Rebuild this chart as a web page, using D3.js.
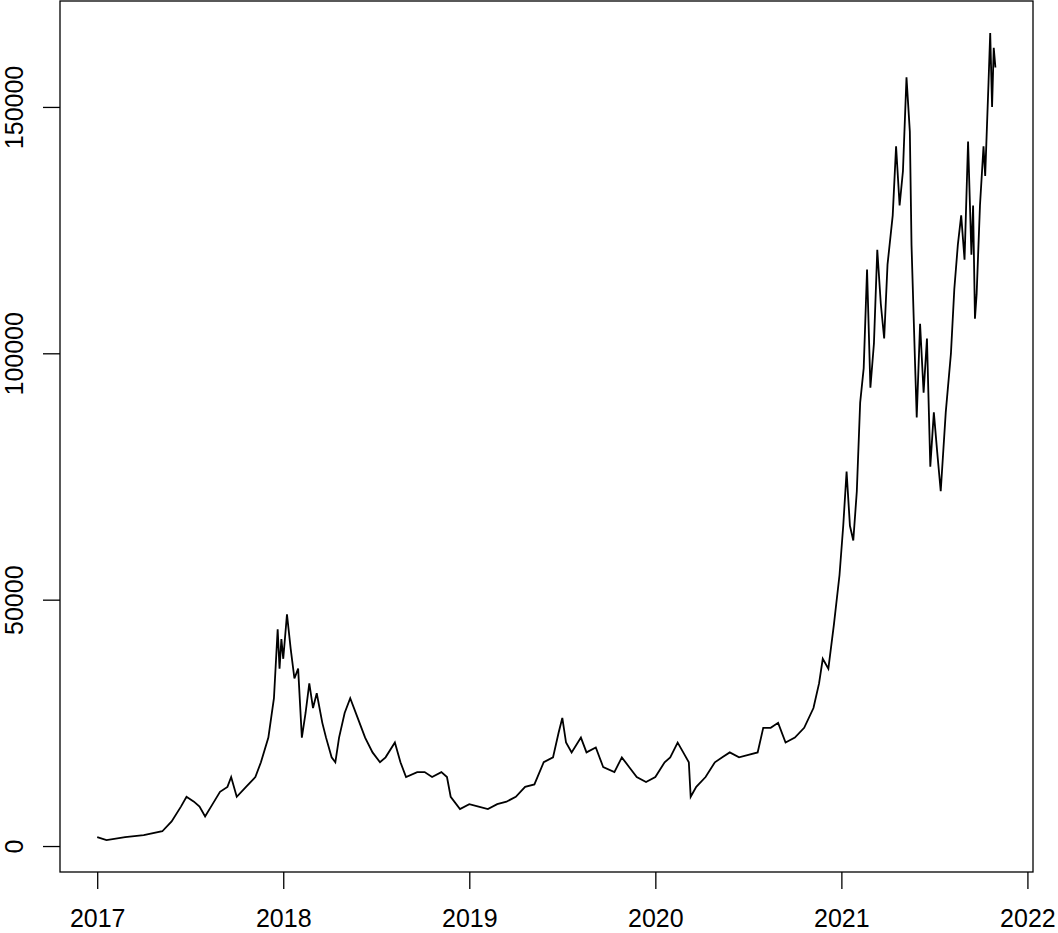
<!DOCTYPE html><html><head><script src="https://d3js.org/d3.v7.min.js"></script>
<style>body{margin:0;background:#fff}</style></head><body><svg id="c" width="1058" height="933"></svg>
<script>
const years=[2017.0,2017.05,2017.15,2017.25,2017.35,2017.40,2017.45,2017.48,2017.52,2017.55,2017.58,2017.62,2017.66,2017.70,2017.72,2017.75,2017.8,2017.85,2017.88,2017.92,2017.95,2017.97,2017.98,2017.99,2018.0,2018.02,2018.04,2018.06,2018.08,2018.10,2018.12,2018.14,2018.16,2018.18,2018.21,2018.23,2018.26,2018.28,2018.30,2018.33,2018.36,2018.40,2018.44,2018.48,2018.52,2018.55,2018.60,2018.63,2018.66,2018.72,2018.76,2018.80,2018.85,2018.88,2018.90,2018.95,2019.0,2019.05,2019.10,2019.15,2019.20,2019.25,2019.30,2019.35,2019.40,2019.45,2019.48,2019.50,2019.52,2019.55,2019.60,2019.63,2019.68,2019.72,2019.78,2019.82,2019.86,2019.9,2019.95,2020.0,2020.05,2020.08,2020.12,2020.15,2020.18,2020.19,2020.22,2020.27,2020.32,2020.36,2020.40,2020.45,2020.5,2020.55,2020.58,2020.62,2020.66,2020.70,2020.75,2020.80,2020.85,2020.88,2020.90,2020.93,2020.96,2020.99,2021.01,2021.028,2021.046,2021.064,2021.083,2021.101,2021.12,2021.138,2021.156,2021.175,2021.193,2021.212,2021.23,2021.248,2021.276,2021.294,2021.313,2021.331,2021.35,2021.368,2021.377,2021.396,2021.405,2021.423,2021.442,2021.46,2021.478,2021.497,2021.515,2021.534,2021.561,2021.589,2021.607,2021.626,2021.644,2021.662,2021.681,2021.699,2021.708,2021.718,2021.727,2021.745,2021.764,2021.773,2021.791,2021.80,2021.81,2021.819,2021.828];
const values=[1.8,1.2,1.8,2.2,3,5,8,10,9,8,6,8.5,11,12,14,10,12,14,17,22,30,44,36,42,38,47,40,34,36,22,27,33,28,31,25,22,18,17,22,27,30,26,22,19,17,18,21,17,14,15,15,14,15,14,10,7.5,8.5,8,7.5,8.5,9,10,12,12.5,17,18,23,26,21,19,22,19,20,16,15,18,16,14,13,14,17,18,21,19,17,10,12,14,17,18,19,18,18.5,19,24,24,25,21,22,24,28,33,38,36,45,55,65,76,65,62,72,90,97,117,93,102,121,110,103,118,128,142,130,137,156,145,122,98,87,106,92,103,77,88,80,72,88,100,113,122,128,119,143,120,130,107,112,130,142,136,155,165,150,162,158].map(v=>v*1000);
const xTicks=[2017,2018,2019,2020,2021,2022];
const yTicks=[0,50000,100000,150000];
const svg=d3.select("#c");
const L=60,R=1033,T=1,B=872;
const x=d3.scaleLinear().domain([2016.80,2022.03]).range([L,R]);
const y=d3.scaleLinear().domain([-5270,171500]).range([B,T]);
const data=years.map((d,i)=>[d,values[i]]);
svg.append("path").datum(data).attr("fill","none").attr("stroke","#000").attr("stroke-width",1.8)
 .attr("d",d3.line().x(d=>x(d[0])).y(d=>y(d[1])));
svg.append("rect").attr("x",L).attr("y",T).attr("width",R-L).attr("height",B-T).attr("fill","none").attr("stroke","#000").attr("stroke-width",1.3);
const f="Liberation Sans, Arial, sans-serif";
const xa=svg.append("g").attr("transform",`translate(0,${B})`).call(d3.axisBottom(x).tickValues(xTicks).tickFormat(d3.format("d")).tickSize(17).tickPadding(20));
const ya=svg.append("g").attr("transform",`translate(${L},0)`).call(d3.axisLeft(y).tickValues(yTicks).tickFormat(d3.format("d")).tickSize(17));
[xa,ya].forEach(a=>{a.select(".domain").remove();a.selectAll("line").attr("stroke-width",1.3);a.selectAll("text").attr("font-family",f).attr("font-size",25).attr("fill","#000");});
ya.selectAll(".tick text").attr("x",0).attr("y",0).attr("dy",0).attr("text-anchor","middle").attr("transform","translate(-37,0) rotate(-90)");
</script></body></html>
